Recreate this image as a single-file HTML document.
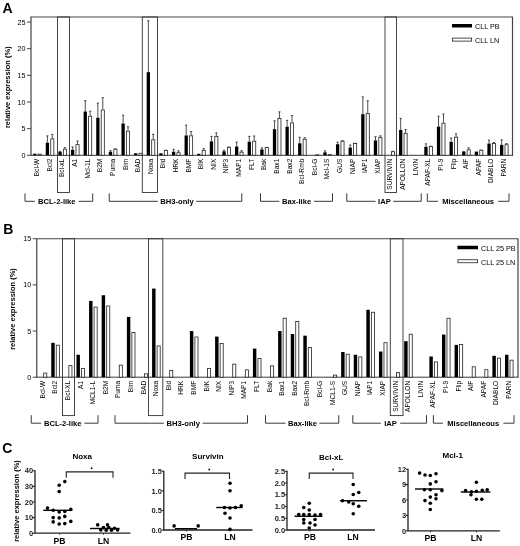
<!DOCTYPE html>
<html><head><meta charset="utf-8"><style>
html,body{margin:0;padding:0;background:#fff;}
svg{display:block;will-change:transform;}
</style></head><body>
<svg width="520" height="546" viewBox="0 0 520 546" font-family="Liberation Sans, sans-serif" fill="#000">
<text x="2.6" y="13.4" font-size="14" font-weight="bold">A</text>
<path d="M31,155.3 V17 H512.5 V155.3" fill="none" stroke="#444" stroke-width="1.2"/>
<path d="M30.4,155.3 H513.1" fill="none" stroke="#222" stroke-width="0.9"/>
<path d="M27,155.30 H31" stroke="#444" stroke-width="1"/>
<text x="25.5" y="157.80" font-size="7.2" text-anchor="end">0</text>
<path d="M27,128.65 H31" stroke="#444" stroke-width="1"/>
<text x="25.5" y="131.15" font-size="7.2" text-anchor="end">5</text>
<path d="M27,102.00 H31" stroke="#444" stroke-width="1"/>
<text x="25.5" y="104.50" font-size="7.2" text-anchor="end">10</text>
<path d="M27,75.35 H31" stroke="#444" stroke-width="1"/>
<text x="25.5" y="77.85" font-size="7.2" text-anchor="end">15</text>
<path d="M27,48.70 H31" stroke="#444" stroke-width="1"/>
<text x="25.5" y="51.20" font-size="7.2" text-anchor="end">20</text>
<path d="M27,22.05 H31" stroke="#444" stroke-width="1"/>
<text x="25.5" y="24.55" font-size="7.2" text-anchor="end">25</text>
<text transform="translate(9.6,87.2) rotate(-90)" font-size="7.5" font-weight="bold" text-anchor="middle">relative expression (%)</text>
<rect x="33.13" y="153.70" width="3.3" height="1.60" fill="#000"/>
<rect x="38.13" y="154.10" width="3.1" height="1.20" fill="#fff" stroke="#222" stroke-width="0.8"/>
<text transform="translate(39.18,158.7) rotate(-90)" font-size="6.6" text-anchor="end">Bcl-W</text>
<rect x="45.75" y="142.72" width="3.3" height="12.58" fill="#000"/>
<path d="M47.40,142.72 V135.85 M46.30,135.85 H48.50" stroke="#222" stroke-width="0.8"/>
<path d="M52.30,138.46 V134.41 M51.20,134.41 H53.40" stroke="#222" stroke-width="0.8"/>
<rect x="50.75" y="138.86" width="3.1" height="16.44" fill="#fff" stroke="#222" stroke-width="0.8"/>
<text transform="translate(51.80,158.7) rotate(-90)" font-size="6.6" text-anchor="end">Bcl2</text>
<rect x="58.37" y="151.73" width="3.3" height="3.57" fill="#000"/>
<path d="M60.02,151.73 V151.30 M58.92,151.30 H61.12" stroke="#222" stroke-width="0.8"/>
<path d="M64.92,148.80 V147.68 M63.82,147.68 H66.02" stroke="#222" stroke-width="0.8"/>
<rect x="63.37" y="149.20" width="3.1" height="6.10" fill="#fff" stroke="#222" stroke-width="0.8"/>
<text transform="translate(64.42,158.7) rotate(-90)" font-size="6.6" text-anchor="end">Bcl-xL</text>
<rect x="70.98" y="149.81" width="3.3" height="5.49" fill="#000"/>
<path d="M72.63,149.81 V146.88 M71.53,146.88 H73.73" stroke="#222" stroke-width="0.8"/>
<path d="M77.53,144.21 V141.02 M76.43,141.02 H78.63" stroke="#222" stroke-width="0.8"/>
<rect x="75.98" y="144.61" width="3.1" height="10.69" fill="#fff" stroke="#222" stroke-width="0.8"/>
<text transform="translate(77.03,158.7) rotate(-90)" font-size="6.6" text-anchor="end">A1</text>
<rect x="83.60" y="111.49" width="3.3" height="43.81" fill="#000"/>
<path d="M85.25,111.49 V100.67 M84.15,100.67 H86.35" stroke="#222" stroke-width="0.8"/>
<path d="M90.15,115.86 V111.22 M89.05,111.22 H91.25" stroke="#222" stroke-width="0.8"/>
<rect x="88.60" y="116.26" width="3.1" height="39.04" fill="#fff" stroke="#222" stroke-width="0.8"/>
<text transform="translate(89.65,158.7) rotate(-90)" font-size="6.6" text-anchor="end">Mcl-1L</text>
<rect x="96.22" y="117.72" width="3.3" height="37.58" fill="#000"/>
<path d="M97.87,117.72 V103.12 M96.77,103.12 H98.97" stroke="#222" stroke-width="0.8"/>
<path d="M102.77,109.62 V97.68 M101.67,97.68 H103.87" stroke="#222" stroke-width="0.8"/>
<rect x="101.22" y="110.02" width="3.1" height="45.28" fill="#fff" stroke="#222" stroke-width="0.8"/>
<text transform="translate(102.27,158.7) rotate(-90)" font-size="6.6" text-anchor="end">B2M</text>
<rect x="108.84" y="151.73" width="3.3" height="3.57" fill="#000"/>
<path d="M110.49,151.73 V150.61 M109.39,150.61 H111.59" stroke="#222" stroke-width="0.8"/>
<path d="M115.39,148.80 V148.90 M114.29,148.90 H116.49" stroke="#222" stroke-width="0.8"/>
<rect x="113.84" y="149.20" width="3.1" height="6.10" fill="#fff" stroke="#222" stroke-width="0.8"/>
<text transform="translate(114.89,158.7) rotate(-90)" font-size="6.6" text-anchor="end">Puma</text>
<rect x="121.46" y="123.48" width="3.3" height="31.82" fill="#000"/>
<path d="M123.11,123.48 V115.22 M122.01,115.22 H124.21" stroke="#222" stroke-width="0.8"/>
<path d="M128.01,130.78 V126.79 M126.91,126.79 H129.11" stroke="#222" stroke-width="0.8"/>
<rect x="126.46" y="131.18" width="3.1" height="24.12" fill="#fff" stroke="#222" stroke-width="0.8"/>
<text transform="translate(127.51,158.7) rotate(-90)" font-size="6.6" text-anchor="end">Bim</text>
<rect x="134.07" y="153.27" width="3.3" height="2.03" fill="#000"/>
<rect x="139.07" y="153.30" width="3.1" height="2.00" fill="#fff" stroke="#222" stroke-width="0.8"/>
<text transform="translate(140.12,158.7) rotate(-90)" font-size="6.6" text-anchor="end">BAD</text>
<rect x="146.69" y="72.15" width="3.3" height="83.15" fill="#000"/>
<path d="M148.34,72.15 V20.72 M147.24,20.72 H149.44" stroke="#222" stroke-width="0.8"/>
<path d="M153.24,139.42 V134.41 M152.14,134.41 H154.34" stroke="#222" stroke-width="0.8"/>
<rect x="151.69" y="139.82" width="3.1" height="15.48" fill="#fff" stroke="#222" stroke-width="0.8"/>
<text transform="translate(152.74,158.7) rotate(-90)" font-size="6.6" text-anchor="end">Noxa</text>
<rect x="159.31" y="153.27" width="3.3" height="2.03" fill="#000"/>
<path d="M165.86,149.97 V150.24 M164.76,150.24 H166.96" stroke="#222" stroke-width="0.8"/>
<rect x="164.31" y="150.37" width="3.1" height="4.93" fill="#fff" stroke="#222" stroke-width="0.8"/>
<text transform="translate(165.36,158.7) rotate(-90)" font-size="6.6" text-anchor="end">Bid</text>
<rect x="171.93" y="151.73" width="3.3" height="3.57" fill="#000"/>
<path d="M173.58,151.73 V149.28 M172.48,149.28 H174.68" stroke="#222" stroke-width="0.8"/>
<path d="M178.48,152.32 V150.77 M177.38,150.77 H179.58" stroke="#222" stroke-width="0.8"/>
<rect x="176.93" y="152.72" width="3.1" height="2.58" fill="#fff" stroke="#222" stroke-width="0.8"/>
<text transform="translate(177.98,158.7) rotate(-90)" font-size="6.6" text-anchor="end">HRK</text>
<rect x="184.55" y="135.42" width="3.3" height="19.88" fill="#000"/>
<path d="M186.20,135.42 V125.19 M185.10,125.19 H187.30" stroke="#222" stroke-width="0.8"/>
<path d="M191.10,135.42 V131.58 M190.00,131.58 H192.20" stroke="#222" stroke-width="0.8"/>
<rect x="189.55" y="135.82" width="3.1" height="19.48" fill="#fff" stroke="#222" stroke-width="0.8"/>
<text transform="translate(190.60,158.7) rotate(-90)" font-size="6.6" text-anchor="end">BMF</text>
<rect x="197.16" y="153.81" width="3.3" height="1.49" fill="#000"/>
<path d="M203.71,149.97 V148.64 M202.61,148.64 H204.81" stroke="#222" stroke-width="0.8"/>
<rect x="202.16" y="150.37" width="3.1" height="4.93" fill="#fff" stroke="#222" stroke-width="0.8"/>
<text transform="translate(203.21,158.7) rotate(-90)" font-size="6.6" text-anchor="end">BIK</text>
<rect x="209.78" y="141.34" width="3.3" height="13.96" fill="#000"/>
<path d="M211.43,141.34 V136.38 M210.33,136.38 H212.53" stroke="#222" stroke-width="0.8"/>
<path d="M216.33,135.95 V132.91 M215.23,132.91 H217.43" stroke="#222" stroke-width="0.8"/>
<rect x="214.78" y="136.35" width="3.1" height="18.95" fill="#fff" stroke="#222" stroke-width="0.8"/>
<text transform="translate(215.83,158.7) rotate(-90)" font-size="6.6" text-anchor="end">NIX</text>
<rect x="222.40" y="151.30" width="3.3" height="4.00" fill="#000"/>
<path d="M224.05,151.30 V150.24 M222.95,150.24 H225.15" stroke="#222" stroke-width="0.8"/>
<path d="M228.95,146.88 V147.04 M227.85,147.04 H230.05" stroke="#222" stroke-width="0.8"/>
<rect x="227.40" y="147.28" width="3.1" height="8.02" fill="#fff" stroke="#222" stroke-width="0.8"/>
<text transform="translate(228.45,158.7) rotate(-90)" font-size="6.6" text-anchor="end">NIP3</text>
<rect x="235.02" y="146.51" width="3.3" height="8.79" fill="#000"/>
<path d="M236.67,146.51 V142.14 M235.57,142.14 H237.77" stroke="#222" stroke-width="0.8"/>
<path d="M241.57,151.73 V150.77 M240.47,150.77 H242.67" stroke="#222" stroke-width="0.8"/>
<rect x="240.02" y="152.13" width="3.1" height="3.17" fill="#fff" stroke="#222" stroke-width="0.8"/>
<text transform="translate(241.07,158.7) rotate(-90)" font-size="6.6" text-anchor="end">MAP1</text>
<rect x="247.64" y="141.71" width="3.3" height="13.59" fill="#000"/>
<path d="M249.29,141.71 V136.38 M248.19,136.38 H250.39" stroke="#222" stroke-width="0.8"/>
<path d="M254.19,140.80 V136.01 M253.09,136.01 H255.29" stroke="#222" stroke-width="0.8"/>
<rect x="252.64" y="141.20" width="3.1" height="14.10" fill="#fff" stroke="#222" stroke-width="0.8"/>
<text transform="translate(253.69,158.7) rotate(-90)" font-size="6.6" text-anchor="end">FLT</text>
<rect x="260.25" y="149.44" width="3.3" height="5.86" fill="#000"/>
<path d="M261.90,149.44 V147.89 M260.80,147.89 H263.00" stroke="#222" stroke-width="0.8"/>
<path d="M266.80,147.09 V147.31 M265.70,147.31 H267.90" stroke="#222" stroke-width="0.8"/>
<rect x="265.25" y="147.49" width="3.1" height="7.81" fill="#fff" stroke="#222" stroke-width="0.8"/>
<text transform="translate(266.30,158.7) rotate(-90)" font-size="6.6" text-anchor="end">Bak</text>
<rect x="272.87" y="129.18" width="3.3" height="26.12" fill="#000"/>
<path d="M274.52,129.18 V120.82 M273.42,120.82 H275.62" stroke="#222" stroke-width="0.8"/>
<path d="M279.42,118.10 V111.86 M278.32,111.86 H280.52" stroke="#222" stroke-width="0.8"/>
<rect x="277.87" y="118.50" width="3.1" height="36.80" fill="#fff" stroke="#222" stroke-width="0.8"/>
<text transform="translate(278.92,158.7) rotate(-90)" font-size="6.6" text-anchor="end">Bax1</text>
<rect x="285.49" y="126.68" width="3.3" height="28.62" fill="#000"/>
<path d="M287.14,126.68 V120.39 M286.04,120.39 H288.24" stroke="#222" stroke-width="0.8"/>
<path d="M292.04,122.52 V115.59 M290.94,115.59 H293.14" stroke="#222" stroke-width="0.8"/>
<rect x="290.49" y="122.92" width="3.1" height="32.38" fill="#fff" stroke="#222" stroke-width="0.8"/>
<text transform="translate(291.54,158.7) rotate(-90)" font-size="6.6" text-anchor="end">Bax2</text>
<rect x="298.11" y="143.31" width="3.3" height="11.99" fill="#000"/>
<path d="M299.76,143.31 V137.29 M298.66,137.29 H300.86" stroke="#222" stroke-width="0.8"/>
<path d="M304.66,138.78 V137.71 M303.56,137.71 H305.76" stroke="#222" stroke-width="0.8"/>
<rect x="303.11" y="139.18" width="3.1" height="16.12" fill="#fff" stroke="#222" stroke-width="0.8"/>
<text transform="translate(304.16,158.7) rotate(-90)" font-size="6.6" text-anchor="end">Bcl-Rmb</text>
<rect x="315.73" y="154.79" width="3.1" height="0.51" fill="#fff" stroke="#222" stroke-width="0.8"/>
<text transform="translate(316.78,158.7) rotate(-90)" font-size="6.6" text-anchor="end">Bcl-G</text>
<rect x="323.34" y="152.32" width="3.3" height="2.98" fill="#000"/>
<path d="M324.99,152.32 V150.77 M323.89,150.77 H326.09" stroke="#222" stroke-width="0.8"/>
<rect x="328.34" y="154.63" width="3.1" height="0.67" fill="#fff" stroke="#222" stroke-width="0.8"/>
<text transform="translate(329.39,158.7) rotate(-90)" font-size="6.6" text-anchor="end">Mcl-1S</text>
<rect x="335.96" y="144.21" width="3.3" height="11.09" fill="#000"/>
<path d="M337.61,144.21 V142.14 M336.51,142.14 H338.71" stroke="#222" stroke-width="0.8"/>
<path d="M342.51,140.80 V140.64 M341.41,140.64 H343.61" stroke="#222" stroke-width="0.8"/>
<rect x="340.96" y="141.20" width="3.1" height="14.10" fill="#fff" stroke="#222" stroke-width="0.8"/>
<text transform="translate(342.01,158.7) rotate(-90)" font-size="6.6" text-anchor="end">GUS</text>
<rect x="348.58" y="147.52" width="3.3" height="7.78" fill="#000"/>
<path d="M350.23,147.52 V145.01 M349.13,145.01 H351.33" stroke="#222" stroke-width="0.8"/>
<path d="M355.13,143.09 V143.31 M354.03,143.31 H356.23" stroke="#222" stroke-width="0.8"/>
<rect x="353.58" y="143.49" width="3.1" height="11.81" fill="#fff" stroke="#222" stroke-width="0.8"/>
<text transform="translate(354.63,158.7) rotate(-90)" font-size="6.6" text-anchor="end">NIAP</text>
<rect x="361.20" y="114.21" width="3.3" height="41.09" fill="#000"/>
<path d="M362.85,114.21 V96.94 M361.75,96.94 H363.95" stroke="#222" stroke-width="0.8"/>
<path d="M367.75,112.93 V100.83 M366.65,100.83 H368.85" stroke="#222" stroke-width="0.8"/>
<rect x="366.20" y="113.33" width="3.1" height="41.97" fill="#fff" stroke="#222" stroke-width="0.8"/>
<text transform="translate(367.25,158.7) rotate(-90)" font-size="6.6" text-anchor="end">IAP1</text>
<rect x="373.82" y="140.38" width="3.3" height="14.92" fill="#000"/>
<path d="M375.47,140.38 V136.75 M374.37,136.75 H376.57" stroke="#222" stroke-width="0.8"/>
<path d="M380.37,136.91 V135.85 M379.27,135.85 H381.47" stroke="#222" stroke-width="0.8"/>
<rect x="378.82" y="137.31" width="3.1" height="17.99" fill="#fff" stroke="#222" stroke-width="0.8"/>
<text transform="translate(379.87,158.7) rotate(-90)" font-size="6.6" text-anchor="end">XIAP</text>
<path d="M392.98,151.30 V151.30 M391.88,151.30 H394.08" stroke="#222" stroke-width="0.8"/>
<rect x="391.43" y="151.70" width="3.1" height="3.60" fill="#fff" stroke="#222" stroke-width="0.8"/>
<text transform="translate(392.48,158.7) rotate(-90)" font-size="6.6" text-anchor="end">SURVIVIN</text>
<rect x="399.05" y="129.98" width="3.3" height="25.32" fill="#000"/>
<path d="M400.70,129.98 V118.36 M399.60,118.36 H401.80" stroke="#222" stroke-width="0.8"/>
<path d="M405.60,132.91 V129.45 M404.50,129.45 H406.70" stroke="#222" stroke-width="0.8"/>
<rect x="404.05" y="133.31" width="3.1" height="21.99" fill="#fff" stroke="#222" stroke-width="0.8"/>
<text transform="translate(405.10,158.7) rotate(-90)" font-size="6.6" text-anchor="end">APOLLON</text>
<text transform="translate(417.72,158.7) rotate(-90)" font-size="6.6" text-anchor="end">LIVIN</text>
<rect x="424.29" y="146.77" width="3.3" height="8.53" fill="#000"/>
<path d="M425.94,146.77 V143.84 M424.84,143.84 H427.04" stroke="#222" stroke-width="0.8"/>
<path d="M430.84,146.08 V146.24 M429.74,146.24 H431.94" stroke="#222" stroke-width="0.8"/>
<rect x="429.29" y="146.48" width="3.1" height="8.82" fill="#fff" stroke="#222" stroke-width="0.8"/>
<text transform="translate(430.34,158.7) rotate(-90)" font-size="6.6" text-anchor="end">APAF-XL</text>
<rect x="436.91" y="126.52" width="3.3" height="28.78" fill="#000"/>
<path d="M438.56,126.52 V116.13 M437.46,116.13 H439.66" stroke="#222" stroke-width="0.8"/>
<path d="M443.46,122.79 V113.99 M442.36,113.99 H444.56" stroke="#222" stroke-width="0.8"/>
<rect x="441.91" y="123.19" width="3.1" height="32.11" fill="#fff" stroke="#222" stroke-width="0.8"/>
<text transform="translate(442.96,158.7) rotate(-90)" font-size="6.6" text-anchor="end">PI-9</text>
<rect x="449.52" y="141.82" width="3.3" height="13.48" fill="#000"/>
<path d="M451.17,141.82 V137.98 M450.07,137.98 H452.27" stroke="#222" stroke-width="0.8"/>
<path d="M456.07,136.80 V133.87 M454.97,133.87 H457.17" stroke="#222" stroke-width="0.8"/>
<rect x="454.52" y="137.20" width="3.1" height="18.10" fill="#fff" stroke="#222" stroke-width="0.8"/>
<text transform="translate(455.57,158.7) rotate(-90)" font-size="6.6" text-anchor="end">Flip</text>
<rect x="462.14" y="151.57" width="3.3" height="3.73" fill="#000"/>
<path d="M463.79,151.57 V151.57 M462.69,151.57 H464.89" stroke="#222" stroke-width="0.8"/>
<path d="M468.69,149.44 V147.84 M467.59,147.84 H469.79" stroke="#222" stroke-width="0.8"/>
<rect x="467.14" y="149.84" width="3.1" height="5.46" fill="#fff" stroke="#222" stroke-width="0.8"/>
<text transform="translate(468.19,158.7) rotate(-90)" font-size="6.6" text-anchor="end">AIF</text>
<rect x="474.76" y="151.57" width="3.3" height="3.73" fill="#000"/>
<path d="M481.31,149.81 V150.24 M480.21,150.24 H482.41" stroke="#222" stroke-width="0.8"/>
<rect x="479.76" y="150.21" width="3.1" height="5.09" fill="#fff" stroke="#222" stroke-width="0.8"/>
<text transform="translate(480.81,158.7) rotate(-90)" font-size="6.6" text-anchor="end">APAF</text>
<rect x="487.38" y="143.57" width="3.3" height="11.73" fill="#000"/>
<path d="M489.03,143.57 V140.11 M487.93,140.11 H490.13" stroke="#222" stroke-width="0.8"/>
<path d="M493.93,143.04 V142.51 M492.83,142.51 H495.03" stroke="#222" stroke-width="0.8"/>
<rect x="492.38" y="143.44" width="3.1" height="11.86" fill="#fff" stroke="#222" stroke-width="0.8"/>
<text transform="translate(493.43,158.7) rotate(-90)" font-size="6.6" text-anchor="end">DIABLO</text>
<rect x="500.00" y="144.80" width="3.3" height="10.50" fill="#000"/>
<path d="M501.65,144.80 V139.84 M500.55,139.84 H502.75" stroke="#222" stroke-width="0.8"/>
<path d="M506.55,144.32 V143.57 M505.45,143.57 H507.65" stroke="#222" stroke-width="0.8"/>
<rect x="505.00" y="144.72" width="3.1" height="10.58" fill="#fff" stroke="#222" stroke-width="0.8"/>
<text transform="translate(506.05,158.7) rotate(-90)" font-size="6.6" text-anchor="end">PARN</text>
<rect x="57.5" y="17" width="12.0" height="175.5" fill="none" stroke="#333" stroke-width="0.9"/>
<rect x="142.3" y="17" width="15.199999999999989" height="175.5" fill="none" stroke="#333" stroke-width="0.9"/>
<rect x="385" y="17" width="11.5" height="175.5" fill="none" stroke="#333" stroke-width="0.9"/>
<path d="M25,193.3 V201.3 H34.8 M78.8,201.3 H92.7 V193.3" fill="none" stroke="#222" stroke-width="0.9"/>
<text x="56.8" y="204.10000000000002" font-size="7.6" font-weight="bold" text-anchor="middle">BCL-2-like</text>
<path d="M109.25,193.3 V201.3 H157.8 M196.2,201.3 H241.75 V193.3" fill="none" stroke="#222" stroke-width="0.9"/>
<text x="177.0" y="204.10000000000002" font-size="7.6" font-weight="bold" text-anchor="middle">BH3-only</text>
<path d="M260.5,193.3 V201.3 H279.3 M313.95,201.3 H332.5 V193.3" fill="none" stroke="#222" stroke-width="0.9"/>
<text x="296.625" y="204.10000000000002" font-size="7.6" font-weight="bold" text-anchor="middle">Bax-like</text>
<path d="M346.75,193.3 V201.3 H375.55 M393.2,201.3 H421.25 V193.3" fill="none" stroke="#222" stroke-width="0.9"/>
<text x="384.375" y="204.10000000000002" font-size="7.6" font-weight="bold" text-anchor="middle">IAP</text>
<path d="M427.3,193.3 V201.3 H438.1 M498.2,201.3 H509 V193.3" fill="none" stroke="#222" stroke-width="0.9"/>
<text x="468.15" y="204.10000000000002" font-size="7.6" font-weight="bold" text-anchor="middle">Miscellaneous</text>
<rect x="452" y="24.0" width="20" height="3.5" fill="#000"/>
<rect x="452.4" y="38.1" width="19.2" height="3" fill="#fff" stroke="#222" stroke-width="0.8"/>
<text x="475" y="29.05" font-size="7.2">CLL PB</text>
<text x="475" y="42.9" font-size="7.2">CLL LN</text>
<text x="3.2" y="234.2" font-size="14" font-weight="bold">B</text>
<path d="M36.75,377.2 V238.75 H518 V377.2" fill="none" stroke="#444" stroke-width="1.2"/>
<path d="M36.15,377.2 H518.6" fill="none" stroke="#222" stroke-width="0.9"/>
<path d="M32.75,377.20 H36.75" stroke="#444" stroke-width="1"/>
<text x="31.25" y="379.70" font-size="7.2" text-anchor="end">0</text>
<path d="M32.75,331.05 H36.75" stroke="#444" stroke-width="1"/>
<text x="31.25" y="333.55" font-size="7.2" text-anchor="end">5</text>
<path d="M32.75,284.90 H36.75" stroke="#444" stroke-width="1"/>
<text x="31.25" y="287.40" font-size="7.2" text-anchor="end">10</text>
<path d="M32.75,238.75 H36.75" stroke="#444" stroke-width="1"/>
<text x="31.25" y="241.25" font-size="7.2" text-anchor="end">15</text>
<text transform="translate(14.6,309) rotate(-90)" font-size="7.5" font-weight="bold" text-anchor="middle">relative expression (%)</text>
<rect x="43.65" y="373.08" width="3.1" height="4.12" fill="#fff" stroke="#222" stroke-width="0.8"/>
<text transform="translate(44.70,380.8) rotate(-90)" font-size="6.6" text-anchor="end">Bcl-W</text>
<rect x="51.25" y="342.77" width="3.45" height="34.43" fill="#000"/>
<rect x="56.25" y="345.20" width="3.1" height="32.00" fill="#fff" stroke="#222" stroke-width="0.8"/>
<text transform="translate(57.30,380.8) rotate(-90)" font-size="6.6" text-anchor="end">Bcl2</text>
<rect x="68.86" y="365.60" width="3.1" height="11.60" fill="#fff" stroke="#222" stroke-width="0.8"/>
<text transform="translate(69.91,380.8) rotate(-90)" font-size="6.6" text-anchor="end">Bcl-XL</text>
<rect x="76.46" y="354.77" width="3.45" height="22.43" fill="#000"/>
<rect x="81.46" y="368.37" width="3.1" height="8.83" fill="#fff" stroke="#222" stroke-width="0.8"/>
<text transform="translate(82.51,380.8) rotate(-90)" font-size="6.6" text-anchor="end">A1</text>
<rect x="89.07" y="300.96" width="3.45" height="76.24" fill="#000"/>
<rect x="94.07" y="307.08" width="3.1" height="70.12" fill="#fff" stroke="#222" stroke-width="0.8"/>
<text transform="translate(95.12,380.8) rotate(-90)" font-size="6.6" text-anchor="end">MCL1-L</text>
<rect x="101.67" y="295.24" width="3.45" height="81.96" fill="#000"/>
<rect x="106.67" y="305.98" width="3.1" height="71.22" fill="#fff" stroke="#222" stroke-width="0.8"/>
<text transform="translate(107.72,380.8) rotate(-90)" font-size="6.6" text-anchor="end">B2M</text>
<rect x="119.27" y="365.14" width="3.1" height="12.06" fill="#fff" stroke="#222" stroke-width="0.8"/>
<text transform="translate(120.32,380.8) rotate(-90)" font-size="6.6" text-anchor="end">Puma</text>
<rect x="126.88" y="316.93" width="3.45" height="60.27" fill="#000"/>
<rect x="131.88" y="332.37" width="3.1" height="44.83" fill="#fff" stroke="#222" stroke-width="0.8"/>
<text transform="translate(132.93,380.8) rotate(-90)" font-size="6.6" text-anchor="end">Bim</text>
<rect x="144.48" y="373.82" width="3.1" height="3.38" fill="#fff" stroke="#222" stroke-width="0.8"/>
<text transform="translate(145.53,380.8) rotate(-90)" font-size="6.6" text-anchor="end">BAD</text>
<rect x="152.09" y="288.59" width="3.45" height="88.61" fill="#000"/>
<rect x="157.09" y="345.94" width="3.1" height="31.26" fill="#fff" stroke="#222" stroke-width="0.8"/>
<text transform="translate(158.14,380.8) rotate(-90)" font-size="6.6" text-anchor="end">Noxa</text>
<rect x="169.69" y="370.59" width="3.1" height="6.61" fill="#fff" stroke="#222" stroke-width="0.8"/>
<text transform="translate(170.74,380.8) rotate(-90)" font-size="6.6" text-anchor="end">Bid</text>
<text transform="translate(183.34,380.8) rotate(-90)" font-size="6.6" text-anchor="end">HRK</text>
<rect x="189.90" y="331.05" width="3.45" height="46.15" fill="#000"/>
<rect x="194.90" y="336.99" width="3.1" height="40.21" fill="#fff" stroke="#222" stroke-width="0.8"/>
<text transform="translate(195.95,380.8) rotate(-90)" font-size="6.6" text-anchor="end">BMF</text>
<rect x="207.50" y="368.37" width="3.1" height="8.83" fill="#fff" stroke="#222" stroke-width="0.8"/>
<text transform="translate(208.55,380.8) rotate(-90)" font-size="6.6" text-anchor="end">BIK</text>
<rect x="215.11" y="336.59" width="3.45" height="40.61" fill="#000"/>
<rect x="220.11" y="343.45" width="3.1" height="33.75" fill="#fff" stroke="#222" stroke-width="0.8"/>
<text transform="translate(221.16,380.8) rotate(-90)" font-size="6.6" text-anchor="end">NIX</text>
<rect x="232.71" y="364.12" width="3.1" height="13.08" fill="#fff" stroke="#222" stroke-width="0.8"/>
<text transform="translate(233.76,380.8) rotate(-90)" font-size="6.6" text-anchor="end">NIP3</text>
<rect x="245.31" y="369.85" width="3.1" height="7.35" fill="#fff" stroke="#222" stroke-width="0.8"/>
<text transform="translate(246.36,380.8) rotate(-90)" font-size="6.6" text-anchor="end">MAP1</text>
<rect x="252.92" y="348.59" width="3.45" height="28.61" fill="#000"/>
<rect x="257.92" y="358.49" width="3.1" height="18.71" fill="#fff" stroke="#222" stroke-width="0.8"/>
<text transform="translate(258.97,380.8) rotate(-90)" font-size="6.6" text-anchor="end">FLT</text>
<rect x="270.52" y="365.88" width="3.1" height="11.32" fill="#fff" stroke="#222" stroke-width="0.8"/>
<text transform="translate(271.57,380.8) rotate(-90)" font-size="6.6" text-anchor="end">Bak</text>
<rect x="278.13" y="331.05" width="3.45" height="46.15" fill="#000"/>
<rect x="283.13" y="318.25" width="3.1" height="58.95" fill="#fff" stroke="#222" stroke-width="0.8"/>
<text transform="translate(284.18,380.8) rotate(-90)" font-size="6.6" text-anchor="end">Bax1</text>
<rect x="290.73" y="334.00" width="3.45" height="43.20" fill="#000"/>
<rect x="295.73" y="321.48" width="3.1" height="55.72" fill="#fff" stroke="#222" stroke-width="0.8"/>
<text transform="translate(296.78,380.8) rotate(-90)" font-size="6.6" text-anchor="end">Bax2</text>
<rect x="303.33" y="335.66" width="3.45" height="41.54" fill="#000"/>
<rect x="308.33" y="347.42" width="3.1" height="29.78" fill="#fff" stroke="#222" stroke-width="0.8"/>
<text transform="translate(309.38,380.8) rotate(-90)" font-size="6.6" text-anchor="end">Bcl-Rmb</text>
<text transform="translate(321.99,380.8) rotate(-90)" font-size="6.6" text-anchor="end">Bcl-G</text>
<rect x="333.54" y="375.11" width="3.1" height="2.09" fill="#fff" stroke="#222" stroke-width="0.8"/>
<text transform="translate(334.59,380.8) rotate(-90)" font-size="6.6" text-anchor="end">MCL1-S</text>
<rect x="341.15" y="352.00" width="3.45" height="25.20" fill="#000"/>
<rect x="346.15" y="354.16" width="3.1" height="23.04" fill="#fff" stroke="#222" stroke-width="0.8"/>
<text transform="translate(347.20,380.8) rotate(-90)" font-size="6.6" text-anchor="end">GUS</text>
<rect x="353.75" y="354.77" width="3.45" height="22.43" fill="#000"/>
<rect x="358.75" y="356.92" width="3.1" height="20.28" fill="#fff" stroke="#222" stroke-width="0.8"/>
<text transform="translate(359.80,380.8) rotate(-90)" font-size="6.6" text-anchor="end">NIAP</text>
<rect x="366.35" y="309.82" width="3.45" height="67.38" fill="#000"/>
<rect x="371.35" y="312.25" width="3.1" height="64.95" fill="#fff" stroke="#222" stroke-width="0.8"/>
<text transform="translate(372.40,380.8) rotate(-90)" font-size="6.6" text-anchor="end">IAP1</text>
<rect x="378.96" y="351.54" width="3.45" height="25.66" fill="#000"/>
<rect x="383.96" y="342.71" width="3.1" height="34.49" fill="#fff" stroke="#222" stroke-width="0.8"/>
<text transform="translate(385.01,380.8) rotate(-90)" font-size="6.6" text-anchor="end">XIAP</text>
<rect x="396.56" y="372.62" width="3.1" height="4.58" fill="#fff" stroke="#222" stroke-width="0.8"/>
<text transform="translate(397.61,380.8) rotate(-90)" font-size="6.6" text-anchor="end">SURVIVIN</text>
<rect x="404.17" y="341.20" width="3.45" height="36.00" fill="#000"/>
<rect x="409.17" y="334.22" width="3.1" height="42.98" fill="#fff" stroke="#222" stroke-width="0.8"/>
<text transform="translate(410.22,380.8) rotate(-90)" font-size="6.6" text-anchor="end">APOLLON</text>
<text transform="translate(422.82,380.8) rotate(-90)" font-size="6.6" text-anchor="end">LIVIN</text>
<rect x="429.37" y="356.52" width="3.45" height="20.68" fill="#000"/>
<rect x="434.37" y="361.91" width="3.1" height="15.29" fill="#fff" stroke="#222" stroke-width="0.8"/>
<text transform="translate(435.42,380.8) rotate(-90)" font-size="6.6" text-anchor="end">APAF-XL</text>
<rect x="441.98" y="334.56" width="3.45" height="42.64" fill="#000"/>
<rect x="446.98" y="318.25" width="3.1" height="58.95" fill="#fff" stroke="#222" stroke-width="0.8"/>
<text transform="translate(448.03,380.8) rotate(-90)" font-size="6.6" text-anchor="end">PI-9</text>
<rect x="454.58" y="344.89" width="3.45" height="32.30" fill="#000"/>
<rect x="459.58" y="344.37" width="3.1" height="32.83" fill="#fff" stroke="#222" stroke-width="0.8"/>
<text transform="translate(460.63,380.8) rotate(-90)" font-size="6.6" text-anchor="end">Flip</text>
<rect x="472.19" y="366.80" width="3.1" height="10.40" fill="#fff" stroke="#222" stroke-width="0.8"/>
<text transform="translate(473.24,380.8) rotate(-90)" font-size="6.6" text-anchor="end">AIF</text>
<rect x="484.79" y="369.66" width="3.1" height="7.54" fill="#fff" stroke="#222" stroke-width="0.8"/>
<text transform="translate(485.84,380.8) rotate(-90)" font-size="6.6" text-anchor="end">APAF</text>
<rect x="492.39" y="355.79" width="3.45" height="21.41" fill="#000"/>
<rect x="497.39" y="358.12" width="3.1" height="19.08" fill="#fff" stroke="#222" stroke-width="0.8"/>
<text transform="translate(498.44,380.8) rotate(-90)" font-size="6.6" text-anchor="end">DIABLO</text>
<rect x="505.00" y="354.77" width="3.45" height="22.43" fill="#000"/>
<rect x="510.00" y="360.16" width="3.1" height="17.04" fill="#fff" stroke="#222" stroke-width="0.8"/>
<text transform="translate(511.05,380.8) rotate(-90)" font-size="6.6" text-anchor="end">PARN</text>
<rect x="62.5" y="238.75" width="12.0" height="176.85000000000002" fill="none" stroke="#333" stroke-width="0.9"/>
<rect x="148.5" y="238.75" width="14.300000000000011" height="176.85000000000002" fill="none" stroke="#333" stroke-width="0.9"/>
<rect x="390.3" y="238.75" width="12.699999999999989" height="176.85000000000002" fill="none" stroke="#333" stroke-width="0.9"/>
<path d="M31.25,415.2 V423.2 H41.05 M84.45,423.2 H98 V415.2" fill="none" stroke="#222" stroke-width="0.9"/>
<text x="62.75" y="426.0" font-size="7.6" font-weight="bold" text-anchor="middle">BCL-2-like</text>
<path d="M115,415.2 V423.2 H163.8 M202.7,423.2 H247.5 V415.2" fill="none" stroke="#222" stroke-width="0.9"/>
<text x="183.25" y="426.0" font-size="7.6" font-weight="bold" text-anchor="middle">BH3-only</text>
<path d="M265.5,415.2 V423.2 H285.55 M319.45,423.2 H338.75 V415.2" fill="none" stroke="#222" stroke-width="0.9"/>
<text x="302.5" y="426.0" font-size="7.6" font-weight="bold" text-anchor="middle">Bax-like</text>
<path d="M352.8,415.2 V423.2 H380.8 M400.2,423.2 H426.5 V415.2" fill="none" stroke="#222" stroke-width="0.9"/>
<text x="390.5" y="426.0" font-size="7.6" font-weight="bold" text-anchor="middle">IAP</text>
<path d="M433.4,415.2 V423.2 H443.0 M503.4,423.2 H514 V415.2" fill="none" stroke="#222" stroke-width="0.9"/>
<text x="473.2" y="426.0" font-size="7.6" font-weight="bold" text-anchor="middle">Miscellaneous</text>
<rect x="457.5" y="245.75" width="20.5" height="3.5" fill="#000"/>
<rect x="457.9" y="259.75" width="19.7" height="3" fill="#fff" stroke="#222" stroke-width="0.8"/>
<text x="481" y="250.8" font-size="7.2">CLL 25 PB</text>
<text x="481" y="264.55" font-size="7.2">CLL 25 LN</text>
<text x="2.3" y="453.2" font-size="14" font-weight="bold">C</text>
<path d="M35,470.20000000000005 V533.2 H130.4" fill="none" stroke="#222" stroke-width="1.3"/>
<path d="M33,533.20 H35" stroke="#222" stroke-width="1.1"/>
<text x="33.1" y="535.90" font-size="7.5" font-weight="bold" text-anchor="end" fill="#1a1a1a">0</text>
<path d="M33,517.58 H35" stroke="#222" stroke-width="1.1"/>
<text x="33.1" y="520.28" font-size="7.5" font-weight="bold" text-anchor="end" fill="#1a1a1a">10</text>
<path d="M33,501.95 H35" stroke="#222" stroke-width="1.1"/>
<text x="33.1" y="504.65" font-size="7.5" font-weight="bold" text-anchor="end" fill="#1a1a1a">20</text>
<path d="M33,486.33 H35" stroke="#222" stroke-width="1.1"/>
<text x="33.1" y="489.03" font-size="7.5" font-weight="bold" text-anchor="end" fill="#1a1a1a">30</text>
<path d="M33,470.70 H35" stroke="#222" stroke-width="1.1"/>
<text x="33.1" y="473.40" font-size="7.5" font-weight="bold" text-anchor="end" fill="#1a1a1a">40</text>
<path d="M59.6,533.2 V534.8000000000001" stroke="#222" stroke-width="0.8"/>
<path d="M103.5,533.2 V534.8000000000001" stroke="#222" stroke-width="0.8"/>
<text x="82.2" y="458.5" font-size="8" font-weight="bold" text-anchor="middle">Noxa</text>
<text x="59.6" y="544.0" font-size="8.6" font-weight="bold" text-anchor="middle">PB</text>
<text x="103.5" y="544.0" font-size="8.6" font-weight="bold" text-anchor="middle">LN</text>
<circle cx="64.8" cy="481.6" r="1.8" fill="#000"/>
<circle cx="59.2" cy="485.2" r="1.8" fill="#000"/>
<circle cx="59.2" cy="491.6" r="1.8" fill="#000"/>
<circle cx="47.5" cy="508.1" r="1.8" fill="#000"/>
<circle cx="53.2" cy="510.3" r="1.8" fill="#000"/>
<circle cx="59.2" cy="511.9" r="1.8" fill="#000"/>
<circle cx="64.8" cy="511.5" r="1.8" fill="#000"/>
<circle cx="70.8" cy="509.4" r="1.8" fill="#000"/>
<circle cx="53.2" cy="517.6" r="1.8" fill="#000"/>
<circle cx="59.2" cy="517.9" r="1.8" fill="#000"/>
<circle cx="64.8" cy="516.4" r="1.8" fill="#000"/>
<circle cx="53.2" cy="521.9" r="1.8" fill="#000"/>
<circle cx="59.2" cy="524" r="1.8" fill="#000"/>
<circle cx="64.8" cy="523.6" r="1.8" fill="#000"/>
<circle cx="70.8" cy="521.4" r="1.8" fill="#000"/>
<circle cx="97.7" cy="524.9" r="1.8" fill="#000"/>
<circle cx="107.5" cy="524.9" r="1.8" fill="#000"/>
<circle cx="100.8" cy="529.9" r="1.8" fill="#000"/>
<circle cx="103.5" cy="527.6" r="1.8" fill="#000"/>
<circle cx="106.2" cy="530.3" r="1.8" fill="#000"/>
<circle cx="108.8" cy="527.6" r="1.8" fill="#000"/>
<circle cx="111.5" cy="530.3" r="1.8" fill="#000"/>
<circle cx="114.5" cy="528.3" r="1.8" fill="#000"/>
<circle cx="117.6" cy="529.9" r="1.8" fill="#000"/>
<path d="M43.3,510.3 H72.2" stroke="#000" stroke-width="1.4"/>
<path d="M90,528.5 H119.6" stroke="#000" stroke-width="1.4"/>
<path d="M66.25,477.7 V471.9 H113 V477.7" fill="none" stroke="#222" stroke-width="1.1"/>
<circle cx="91.625" cy="468.29999999999995" r="0.95" fill="#111"/>
<text transform="translate(18.6,501) rotate(-90)" font-size="7.5" font-weight="bold" text-anchor="middle">relative expression (%)</text>
<path d="M163.8,470.7 V530 H252.5" fill="none" stroke="#222" stroke-width="1.3"/>
<path d="M161.8,530.00 H163.8" stroke="#222" stroke-width="1.1"/>
<text x="161.9" y="532.70" font-size="7.5" font-weight="bold" text-anchor="end" fill="#1a1a1a">0.0</text>
<path d="M161.8,510.40 H163.8" stroke="#222" stroke-width="1.1"/>
<text x="161.9" y="513.10" font-size="7.5" font-weight="bold" text-anchor="end" fill="#1a1a1a">0.5</text>
<path d="M161.8,490.80 H163.8" stroke="#222" stroke-width="1.1"/>
<text x="161.9" y="493.50" font-size="7.5" font-weight="bold" text-anchor="end" fill="#1a1a1a">1.0</text>
<path d="M161.8,471.20 H163.8" stroke="#222" stroke-width="1.1"/>
<text x="161.9" y="473.90" font-size="7.5" font-weight="bold" text-anchor="end" fill="#1a1a1a">1.5</text>
<path d="M186.5,530 V531.6" stroke="#222" stroke-width="0.8"/>
<path d="M230,530 V531.6" stroke="#222" stroke-width="0.8"/>
<text x="207.9" y="459.4" font-size="8" font-weight="bold" text-anchor="middle">Survivin</text>
<text x="186.5" y="539.6" font-size="8.6" font-weight="bold" text-anchor="middle">PB</text>
<text x="230" y="539.6" font-size="8.6" font-weight="bold" text-anchor="middle">LN</text>
<circle cx="174.1" cy="525.9" r="1.8" fill="#000"/>
<circle cx="198.2" cy="525.9" r="1.8" fill="#000"/>
<circle cx="230" cy="483.25" r="1.8" fill="#000"/>
<circle cx="230" cy="490.75" r="1.8" fill="#000"/>
<circle cx="224.5" cy="507.5" r="1.8" fill="#000"/>
<circle cx="230" cy="508" r="1.8" fill="#000"/>
<circle cx="235.5" cy="507.5" r="1.8" fill="#000"/>
<circle cx="241.25" cy="505.75" r="1.8" fill="#000"/>
<circle cx="225" cy="513.25" r="1.8" fill="#000"/>
<circle cx="230" cy="518" r="1.8" fill="#000"/>
<circle cx="230" cy="529.25" r="1.8" fill="#000"/>
<path d="M175,528.7 H197" stroke="#000" stroke-width="1.4"/>
<path d="M216.25,507.5 H242.5" stroke="#000" stroke-width="1.4"/>
<path d="M185,479 V473.1 H229.5 V479" fill="none" stroke="#222" stroke-width="1.1"/>
<circle cx="209.25" cy="469.5" r="0.95" fill="#111"/>
<path d="M287,470.75 V530 H375" fill="none" stroke="#222" stroke-width="1.3"/>
<path d="M285,530.00 H287" stroke="#222" stroke-width="1.1"/>
<text x="285.1" y="532.70" font-size="7.5" font-weight="bold" text-anchor="end" fill="#1a1a1a">0.0</text>
<path d="M285,518.25 H287" stroke="#222" stroke-width="1.1"/>
<text x="285.1" y="520.95" font-size="7.5" font-weight="bold" text-anchor="end" fill="#1a1a1a">0.5</text>
<path d="M285,506.50 H287" stroke="#222" stroke-width="1.1"/>
<text x="285.1" y="509.20" font-size="7.5" font-weight="bold" text-anchor="end" fill="#1a1a1a">1.0</text>
<path d="M285,494.75 H287" stroke="#222" stroke-width="1.1"/>
<text x="285.1" y="497.45" font-size="7.5" font-weight="bold" text-anchor="end" fill="#1a1a1a">1.5</text>
<path d="M285,483.00 H287" stroke="#222" stroke-width="1.1"/>
<text x="285.1" y="485.70" font-size="7.5" font-weight="bold" text-anchor="end" fill="#1a1a1a">2.0</text>
<path d="M285,471.25 H287" stroke="#222" stroke-width="1.1"/>
<text x="285.1" y="473.95" font-size="7.5" font-weight="bold" text-anchor="end" fill="#1a1a1a">2.5</text>
<path d="M310,530 V531.6" stroke="#222" stroke-width="0.8"/>
<path d="M353,530 V531.6" stroke="#222" stroke-width="0.8"/>
<text x="331.2" y="459.8" font-size="8" font-weight="bold" text-anchor="middle">Bcl-xL</text>
<text x="310" y="539.6" font-size="8.6" font-weight="bold" text-anchor="middle">PB</text>
<text x="353" y="539.6" font-size="8.6" font-weight="bold" text-anchor="middle">LN</text>
<circle cx="309.25" cy="503.25" r="1.8" fill="#000"/>
<circle cx="303.75" cy="507.5" r="1.8" fill="#000"/>
<circle cx="309.25" cy="510" r="1.8" fill="#000"/>
<circle cx="298.75" cy="514.5" r="1.8" fill="#000"/>
<circle cx="303.75" cy="514.5" r="1.8" fill="#000"/>
<circle cx="309.25" cy="514.5" r="1.8" fill="#000"/>
<circle cx="315" cy="515" r="1.8" fill="#000"/>
<circle cx="320.5" cy="514.5" r="1.8" fill="#000"/>
<circle cx="303.75" cy="519.5" r="1.8" fill="#000"/>
<circle cx="315" cy="519.5" r="1.8" fill="#000"/>
<circle cx="303.75" cy="523" r="1.8" fill="#000"/>
<circle cx="310" cy="523" r="1.8" fill="#000"/>
<circle cx="315" cy="525" r="1.8" fill="#000"/>
<circle cx="309.25" cy="528" r="1.8" fill="#000"/>
<circle cx="353.25" cy="484.5" r="1.8" fill="#000"/>
<circle cx="358.75" cy="492.5" r="1.8" fill="#000"/>
<circle cx="353.25" cy="494.5" r="1.8" fill="#000"/>
<circle cx="342.5" cy="500.75" r="1.8" fill="#000"/>
<circle cx="348.75" cy="502" r="1.8" fill="#000"/>
<circle cx="353.25" cy="503.75" r="1.8" fill="#000"/>
<circle cx="358.75" cy="506.25" r="1.8" fill="#000"/>
<circle cx="353.25" cy="513.75" r="1.8" fill="#000"/>
<path d="M294.5,516.25 H322.5" stroke="#000" stroke-width="1.4"/>
<path d="M340,500.75 H367" stroke="#000" stroke-width="1.4"/>
<path d="M309.25,479 V473.1 H353 V479" fill="none" stroke="#222" stroke-width="1.1"/>
<circle cx="333.125" cy="469.5" r="0.95" fill="#111"/>
<path d="M408,468.73999999999995 V530.8 H499.8" fill="none" stroke="#222" stroke-width="1.3"/>
<path d="M406,530.80 H408" stroke="#222" stroke-width="1.1"/>
<text x="406.1" y="533.50" font-size="7.5" font-weight="bold" text-anchor="end" fill="#1a1a1a">0</text>
<path d="M406,515.41 H408" stroke="#222" stroke-width="1.1"/>
<text x="406.1" y="518.11" font-size="7.5" font-weight="bold" text-anchor="end" fill="#1a1a1a">3</text>
<path d="M406,500.02 H408" stroke="#222" stroke-width="1.1"/>
<text x="406.1" y="502.72" font-size="7.5" font-weight="bold" text-anchor="end" fill="#1a1a1a">6</text>
<path d="M406,484.63 H408" stroke="#222" stroke-width="1.1"/>
<text x="406.1" y="487.33" font-size="7.5" font-weight="bold" text-anchor="end" fill="#1a1a1a">9</text>
<path d="M406,469.24 H408" stroke="#222" stroke-width="1.1"/>
<text x="406.1" y="471.94" font-size="7.5" font-weight="bold" text-anchor="end" fill="#1a1a1a">12</text>
<path d="M430.6,530.8 V532.4" stroke="#222" stroke-width="0.8"/>
<path d="M476.5,530.8 V532.4" stroke="#222" stroke-width="0.8"/>
<text x="452.7" y="458.2" font-size="8" font-weight="bold" text-anchor="middle">Mcl-1</text>
<text x="430.6" y="540.8" font-size="8.6" font-weight="bold" text-anchor="middle">PB</text>
<text x="476.5" y="540.8" font-size="8.6" font-weight="bold" text-anchor="middle">LN</text>
<circle cx="419.6" cy="473.1" r="1.8" fill="#000"/>
<circle cx="425" cy="475" r="1.8" fill="#000"/>
<circle cx="430.3" cy="475.5" r="1.8" fill="#000"/>
<circle cx="436" cy="473.7" r="1.8" fill="#000"/>
<circle cx="436" cy="481.7" r="1.8" fill="#000"/>
<circle cx="430.3" cy="483.9" r="1.8" fill="#000"/>
<circle cx="424.4" cy="489.8" r="1.8" fill="#000"/>
<circle cx="430.3" cy="489.8" r="1.8" fill="#000"/>
<circle cx="441.9" cy="490.6" r="1.8" fill="#000"/>
<circle cx="436" cy="494.7" r="1.8" fill="#000"/>
<circle cx="430.3" cy="497.1" r="1.8" fill="#000"/>
<circle cx="425" cy="500.6" r="1.8" fill="#000"/>
<circle cx="436" cy="498.7" r="1.8" fill="#000"/>
<circle cx="430.3" cy="503.3" r="1.8" fill="#000"/>
<circle cx="430.3" cy="509.5" r="1.8" fill="#000"/>
<circle cx="476.4" cy="482.3" r="1.8" fill="#000"/>
<circle cx="465.6" cy="490.6" r="1.8" fill="#000"/>
<circle cx="471.5" cy="491.7" r="1.8" fill="#000"/>
<circle cx="476.4" cy="491.2" r="1.8" fill="#000"/>
<circle cx="482.3" cy="490.3" r="1.8" fill="#000"/>
<circle cx="487.2" cy="489.8" r="1.8" fill="#000"/>
<circle cx="471" cy="494.7" r="1.8" fill="#000"/>
<circle cx="476.4" cy="499.2" r="1.8" fill="#000"/>
<circle cx="481.8" cy="499.2" r="1.8" fill="#000"/>
<path d="M415,489 H443.3" stroke="#000" stroke-width="1.4"/>
<path d="M460.8,492 H490.4" stroke="#000" stroke-width="1.4"/>
</svg>
</body></html>
